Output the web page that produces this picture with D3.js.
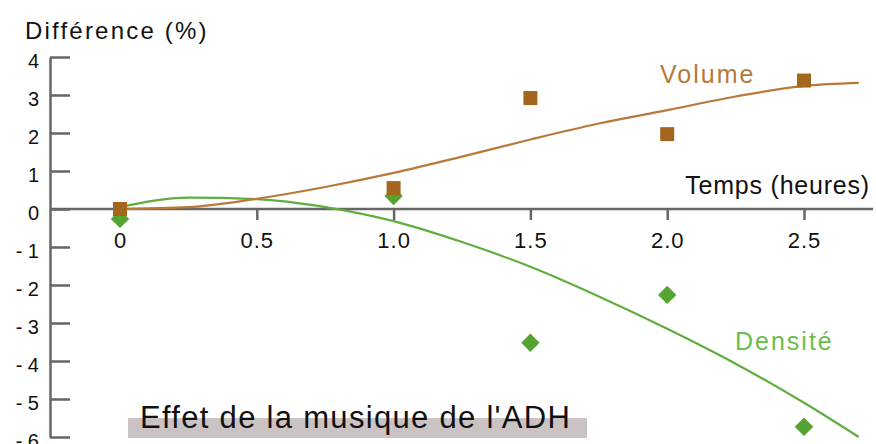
<!DOCTYPE html>
<html>
<head>
<meta charset="utf-8">
<script src="https://cdn.jsdelivr.net/npm/d3@7"></script>
<style>
  body { margin: 0; background: #fff; }
  svg { display: block; font-family: "Liberation Sans", Arial, sans-serif; }
</style>
</head>
<body>
<svg id="chart" width="876" height="444"></svg>
<script>
// mesures
const temps = [0, 1.0, 1.5, 2.0, 2.5];
const volume = [0, 0.55, 2.92, 1.97, 3.38];
const densite = [-0.26, 0.34, -3.52, -2.26, -5.73];

// courbes lissées
const courbeX = [0, 0.25, 0.5, 0.75, 1.0, 1.25, 1.5, 1.75, 2.0, 2.25, 2.5, 2.7];
const courbeVolume = [0, 0.05, 0.27, 0.58, 0.95, 1.38, 1.83, 2.25, 2.6, 2.96, 3.24, 3.32];
const courbeDensite = [0.05, 0.3, 0.26, 0.05, -0.32, -0.87, -1.52, -2.3, -3.15, -4.07, -5.1, -6.0];

const xTicks = [0, 0.5, 1.0, 1.5, 2.0, 2.5];
const yTicks = [4, 3, 2, 1, 0, -1, -2, -3, -4, -5, -6];

const svg = d3.select("#chart");

const x = d3.scaleLinear().domain([0, 2.5]).range([120, 804]);
const y = d3.scaleLinear().domain([-6, 4]).range([437, 57]);

const axisColor = "#666";

// axe vertical
const yAxis = svg.append("g")
  .attr("transform", "translate(50,0)")
  .call(d3.axisLeft(y)
    .tickValues(yTicks)
    .tickSize(-20)
    .tickSizeOuter(0)
    .tickPadding(11)
    .tickFormat(d => d < 0 ? "- " + Math.abs(d) : String(d)));
yAxis.select(".domain").attr("stroke", axisColor).attr("stroke-width", 2.5);
yAxis.selectAll(".tick line").attr("stroke", axisColor).attr("stroke-width", 2.5);
yAxis.selectAll(".tick text")
  .attr("font-size", 20)
  .attr("fill", "#111")
  .attr("dy", "0.5em")
  .attr("font-family", "Liberation Sans, Arial, sans-serif");

// axe horizontal
svg.append("line")
  .attr("x1", 50).attr("x2", 873)
  .attr("y1", y(0)).attr("y2", y(0))
  .attr("stroke", axisColor).attr("stroke-width", 2.5);

const xAxis = svg.append("g")
  .attr("transform", `translate(0,${y(0)})`)
  .call(d3.axisBottom(x)
    .tickValues(xTicks)
    .tickSize(11)
    .tickSizeOuter(0)
    .tickFormat(d => d === 0 ? "0" : d3.format(".1f")(d)));
xAxis.select(".domain").remove();
xAxis.selectAll(".tick line").attr("stroke", axisColor).attr("stroke-width", 2.5);
xAxis.selectAll(".tick text")
  .attr("font-size", 22)
  .attr("fill", "#111")
  .attr("y", 39)
  .attr("dy", 0)
  .attr("letter-spacing", 1)
  .attr("font-family", "Liberation Sans, Arial, sans-serif");

// titres
svg.append("text")
  .attr("x", 25).attr("y", 39)
  .attr("font-size", 24)
  .attr("letter-spacing", 2.2)
  .attr("fill", "#111")
  .text("Différence (%)");

svg.append("text")
  .attr("x", 870).attr("y", 194)
  .attr("text-anchor", "end")
  .attr("font-size", 25)
  .attr("letter-spacing", 0.8)
  .attr("fill", "#111")
  .text("Temps (heures)");

// courbes
const line = d3.line()
  .x(d => x(d[0]))
  .y(d => y(d[1]))
  .curve(d3.curveMonotoneX);

svg.append("path")
  .datum(d3.zip(courbeX, courbeDensite))
  .attr("d", line)
  .attr("fill", "none")
  .attr("stroke", "#5fae3e")
  .attr("stroke-width", 2.2);

svg.append("path")
  .datum(d3.zip(courbeX, courbeVolume))
  .attr("d", line)
  .attr("fill", "none")
  .attr("stroke", "#b8793a")
  .attr("stroke-width", 2.2);

// points densité (losanges)
svg.selectAll(".dens")
  .data(d3.zip(temps, densite))
  .enter()
  .append("path")
  .attr("class", "dens")
  .attr("d", d3.symbol(d3.symbolSquare, 170))
  .attr("transform", d => `translate(${x(d[0])},${y(d[1])}) rotate(45)`)
  .attr("fill", "#55a330");

// points volume (carrés)
svg.selectAll(".vol")
  .data(d3.zip(temps, volume))
  .enter()
  .append("rect")
  .attr("class", "vol")
  .attr("x", d => x(d[0]) - 7)
  .attr("y", d => y(d[1]) - 7)
  .attr("width", 14)
  .attr("height", 14)
  .attr("fill", "#a4661f");

// étiquettes des séries
svg.append("text")
  .attr("x", 660).attr("y", 83)
  .attr("font-size", 25)
  .attr("letter-spacing", 2)
  .attr("fill", "#b5793a")
  .text("Volume");

svg.append("text")
  .attr("x", 735).attr("y", 350)
  .attr("font-size", 25)
  .attr("letter-spacing", 2)
  .attr("fill", "#6bbd4e")
  .text("Densité");

// légende du bas
svg.append("rect")
  .attr("x", 128).attr("y", 418)
  .attr("width", 459).attr("height", 20)
  .attr("fill", "#cbc3c3");

svg.append("text")
  .attr("x", 140).attr("y", 428)
  .attr("font-size", 31)
  .attr("letter-spacing", 1.3)
  .attr("fill", "#111")
  .text("Effet de la musique de l'ADH");
</script>
</body>
</html>
